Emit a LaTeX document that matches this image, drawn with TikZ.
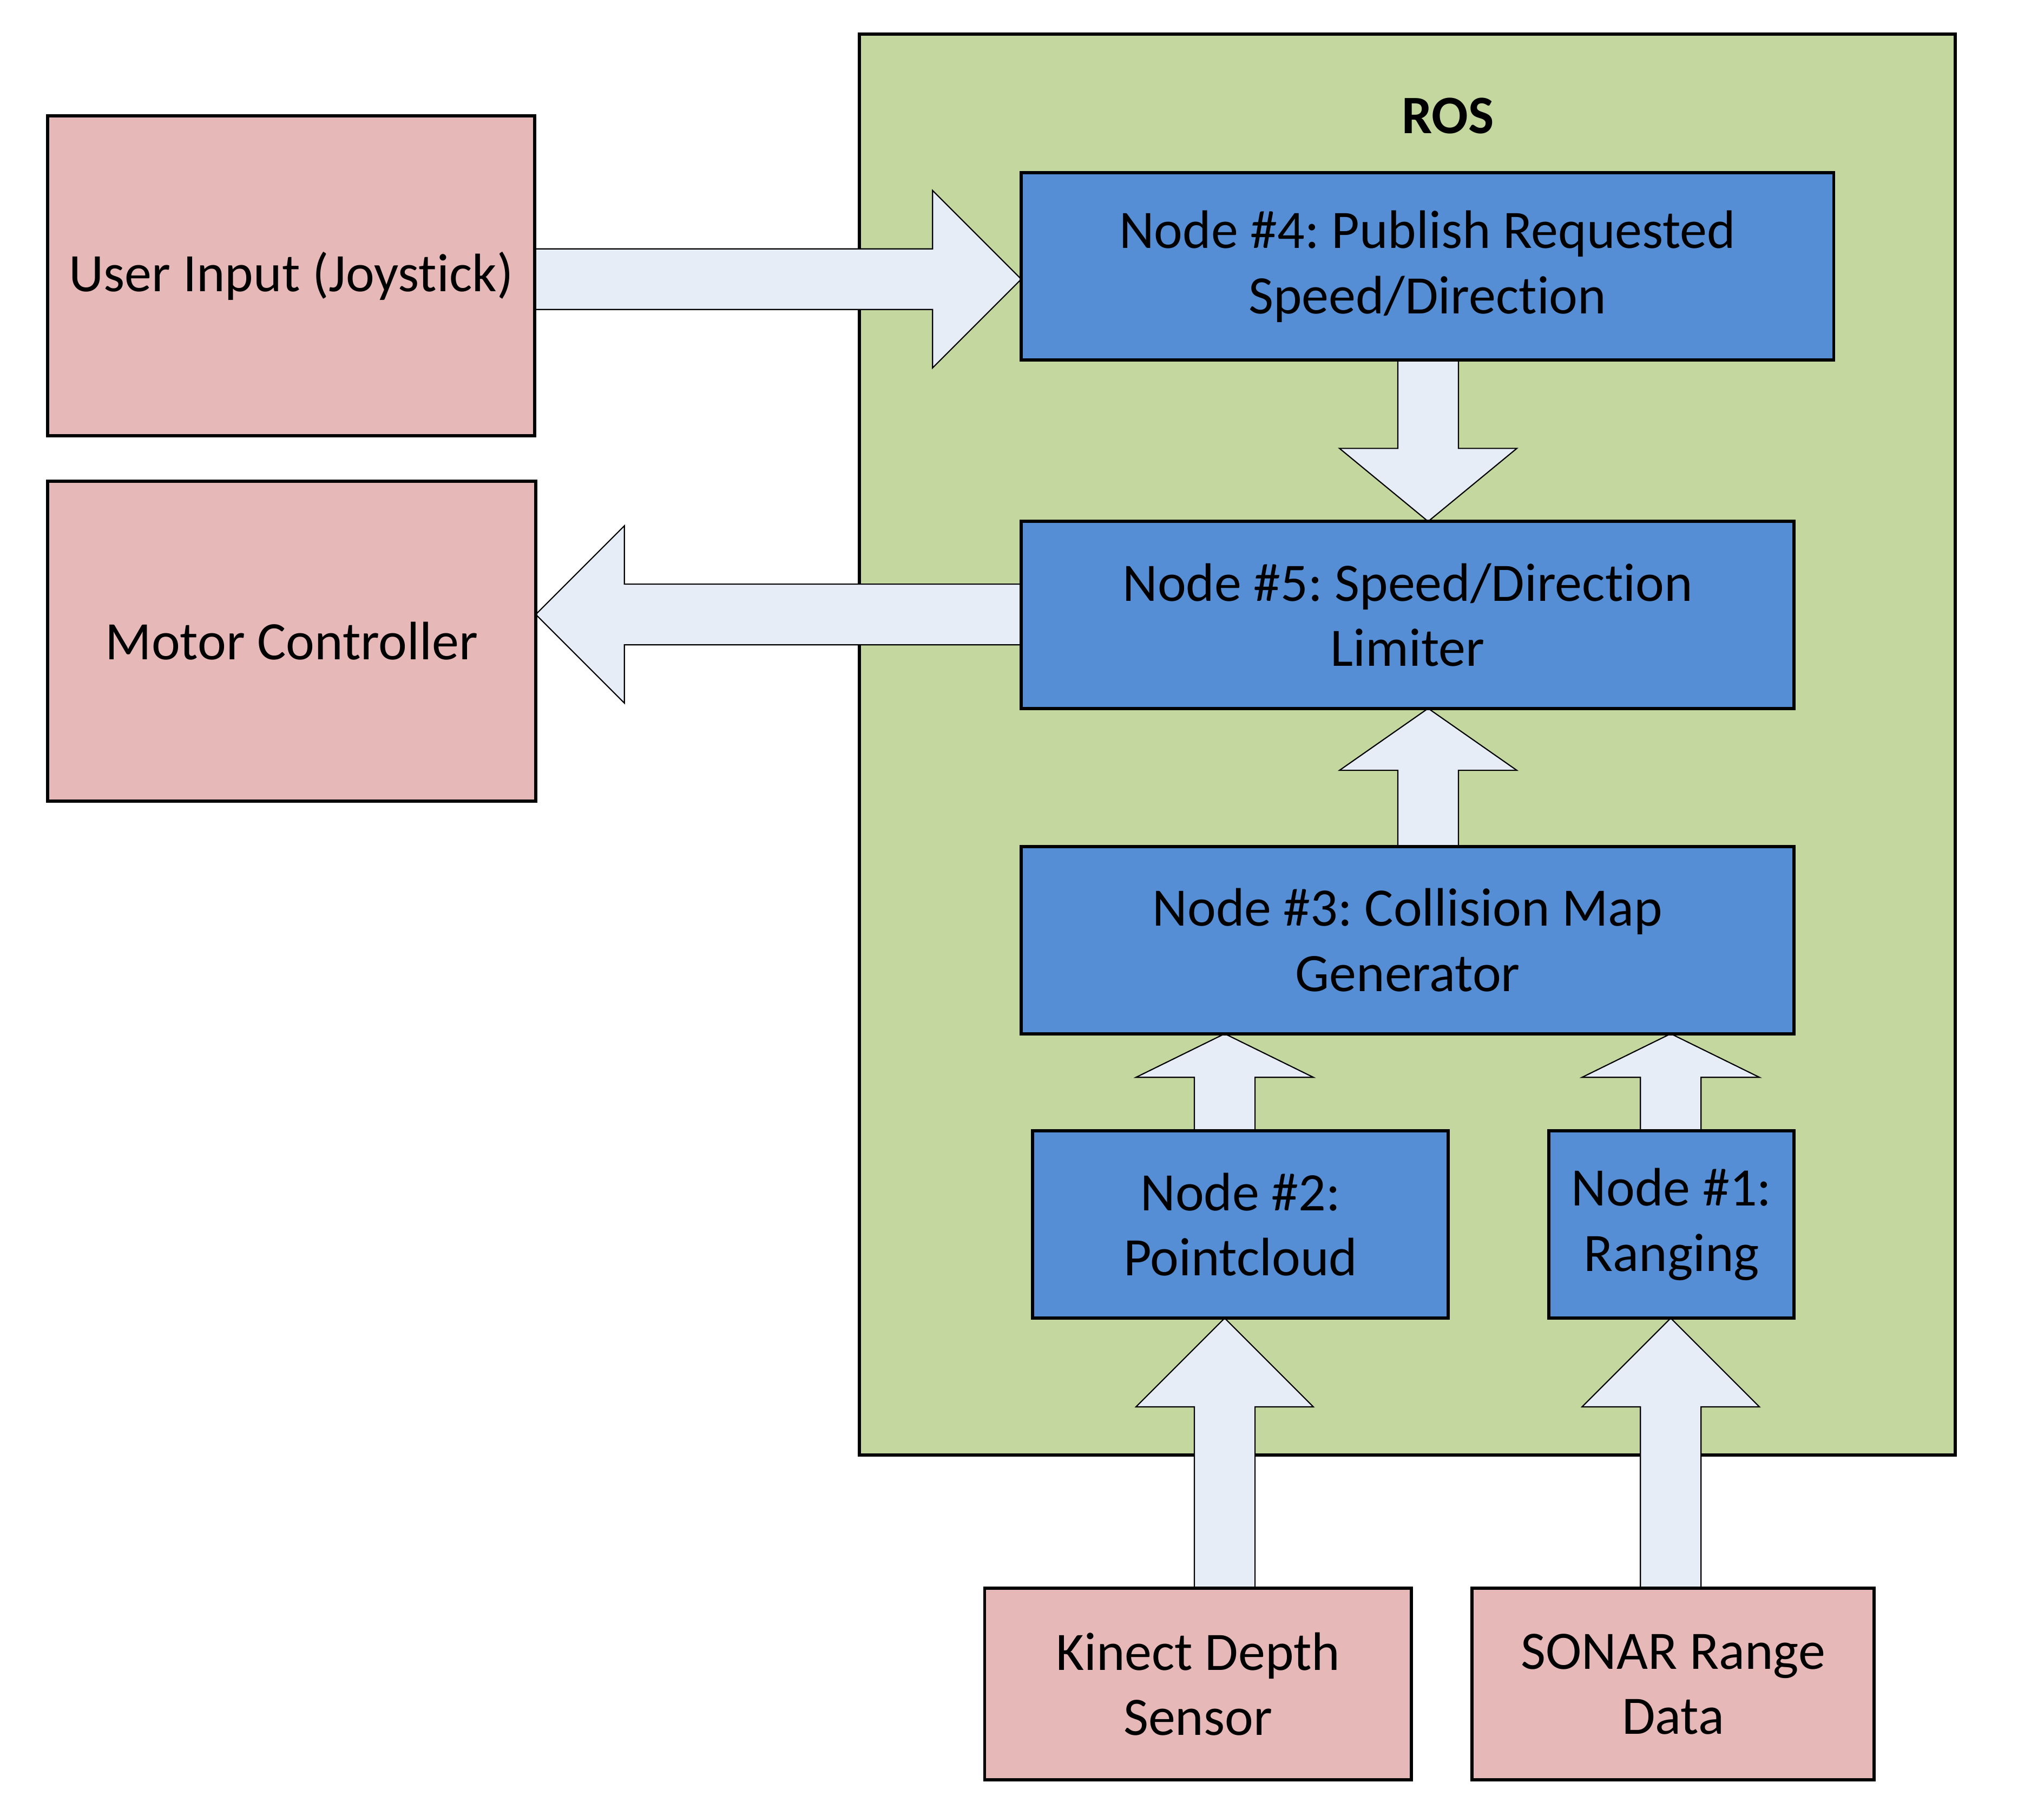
\documentclass[tikz,border=0pt]{standalone}
\usepackage{fontspec}
\setmainfont[Ligatures={TeX,NoCommon}]{Carlito}
\usetikzlibrary{calc,backgrounds}
\definecolor{pinkbox}{HTML}{E6B9B8}
\definecolor{greenbox}{HTML}{C4D79F}
\definecolor{bluebox}{HTML}{558ED5}
\definecolor{arrowfill}{HTML}{E7EDF7}
\frenchspacing
\tikzset{
  basebox/.style={draw=black, line width=2.4pt, inner sep=0pt, outer sep=0pt, align=center,
    font=\fontsize{41.5}{50}\selectfont, text=black},
  extbox/.style={basebox, fill=pinkbox},
  rosnode/.style={basebox, fill=bluebox},
  rosframe/.style={draw=black, line width=2.4pt, fill=greenbox, inner sep=0pt, outer sep=0pt},
  blockarrow/.style={draw=black, line width=0.9pt, fill=arrowfill, line join=miter},
}
% vertical block arrow: #1 x position, #2 from, #3 to, #4 head length
\newcommand\arrV[4]{%
  \draw[blockarrow] let \p1=(#2), \p2=(#3), \n1={ifthenelse(\y2>\y1,1,-1)} in
    (#1pt-23.25pt,\y1) -- (#1pt-23.25pt,\y2-\n1*#4pt) -- (#1pt-68pt,\y2-\n1*#4pt) --
    (#1pt,\y2) -- (#1pt+68pt,\y2-\n1*#4pt) -- (#1pt+23.25pt,\y2-\n1*#4pt) --
    (#1pt+23.25pt,\y1) -- cycle;}
% horizontal block arrow: #1 y position (downwards), #2 from, #3 to, #4 head length
\newcommand\arrH[4]{%
  \draw[blockarrow] let \p1=(#2), \p2=(#3), \n1={ifthenelse(\x2>\x1,1,-1)} in
    (\x1,-#1pt+23.25pt) -- (\x2-\n1*#4pt,-#1pt+23.25pt) -- (\x2-\n1*#4pt,-#1pt+68pt) --
    (\x2,-#1pt) -- (\x2-\n1*#4pt,-#1pt-68pt) -- (\x2-\n1*#4pt,-#1pt-23.25pt) --
    (\x1,-#1pt-23.25pt) -- cycle;}
\begin{document}
\begin{tikzpicture}[x=1pt,y=-1pt]
\useasboundingbox (0,0) rectangle (1567.2,1381.3);

\node[extbox, minimum width=373.5pt, minimum height=245.2pt] (ui) at (223.25,211.4) {User Input (Joystick)};
\node[extbox, minimum width=374.3pt, minimum height=245.2pt] (mc) at (223.6,491.4) {Motor Controller};

\node[rosnode, minimum width=623pt, minimum height=143.5pt] (n4) at (1094.5,204.25) {Node \#4: Publish Requested\\Speed/Direction};
\node[rosnode, minimum width=592.6pt, minimum height=143.3pt] (n5) at (1079.3,471.35) {Node \#5: Speed/Direction\\Limiter};
\node[rosnode, minimum width=592.6pt, minimum height=143.6pt] (n3) at (1079.3,720.6) {Node \#3: Collision Map\\Generator};
\node[rosnode, minimum width=318.6pt, minimum height=143.6pt] (n2) at (951.1,938.6) {Node \#2:\\Pointcloud};
\node[rosnode, minimum width=188pt, minimum height=143.6pt] (n1) at (1281.6,938.6) {Node \#1:\\Ranging};

\node[extbox, minimum width=327pt, minimum height=146.9pt] (kin) at (918.5,1290.95) {Kinect Depth\\Sensor};
\node[extbox, minimum width=308.4pt, minimum height=146.9pt] (son) at (1282.8,1290.95) {SONAR Range\\Data};

\begin{pgfonlayer}{background}
\node[rosframe, minimum width=840pt, minimum height=1089.2pt] (ros) at (1079,570.8) {};
\node[font=\fontsize{41.5}{50}\selectfont\bfseries, inner sep=0pt] (roslabel) at (1110,89) {ROS};

\arrH{214}{ui.east}{n4.west}{68}
\arrV{1095}{n4.south}{n5.north}{56}
\arrH{471}{n5.west}{mc.east}{68}
\arrV{1095}{n3.north}{n5.south}{47.5}
\arrV{939}{n2.north}{n3.south}{33.4}
\arrV{1281}{n1.north}{n3.south}{33.4}
\arrV{939}{kin.north}{n2.south}{68}
\arrV{1281}{son.north}{n1.south}{68}
\end{pgfonlayer}
\end{tikzpicture}
\end{document}
